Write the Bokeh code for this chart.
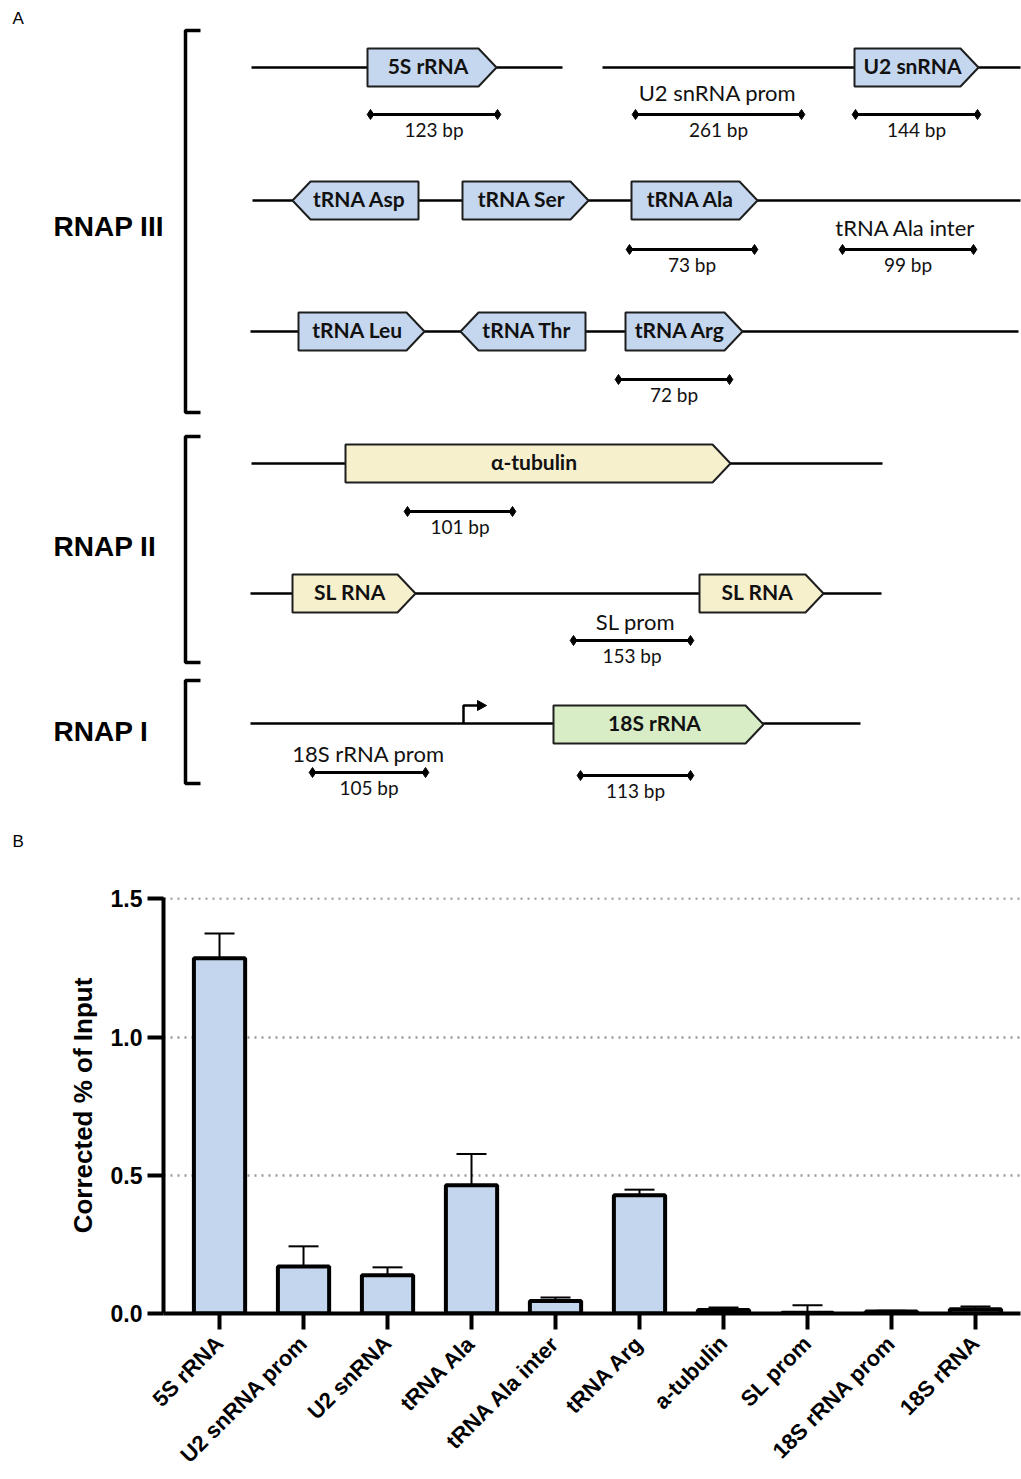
from math import pi
from bokeh.plotting import figure
from bokeh.models import (Range1d, FixedTicker, PrintfTickFormatter, ColumnDataSource,
                          Whisker, TeeHead)
from bokeh.embed import file_html
from bokeh.resources import INLINE
from bokeh.core.properties import value

# ---------------- Panel B data ----------------
categories = ["5S rRNA", "U2 snRNA prom", "U2 snRNA", "tRNA Ala", "tRNA Ala inter",
              "tRNA Arg", "a-tubulin", "SL prom", "18S rRNA prom", "18S rRNA"]
means = [1.285, 0.170, 0.138, 0.464, 0.045, 0.428, 0.013, 0.003, 0.007, 0.015]
errors = [0.090, 0.073, 0.029, 0.113, 0.013, 0.020, 0.009, 0.027, 0.003, 0.010]
y_ticks = [0.0, 0.5, 1.0, 1.5]

# ---------------- Panel A data (schematic) ----------------
gene_labels = ["5S rRNA", "U2 snRNA", "tRNA Asp", "tRNA Ser", "tRNA Ala", "tRNA Leu",
               "tRNA Thr", "tRNA Arg", "α-tubulin", "SL RNA", "SL RNA", "18S rRNA"]
gene_start = [367, 854, 292, 462, 631, 298, 460, 625, 345, 292, 699, 553]
gene_end = [496, 978, 418, 588, 757, 424, 585, 742, 730, 415, 823, 763]
gene_strand = [1, 1, -1, 1, 1, 1, -1, 1, 1, 1, 1, 1]
gene_row = [67, 67, 200, 200, 200, 331, 331, 331, 463, 593, 593, 724]
gene_kind = ["III", "III", "III", "III", "III", "III", "III", "III", "II", "II", "II", "I"]

backbone_x0 = [251, 602, 252, 250, 251, 250, 250]
backbone_x1 = [562, 1020, 1020, 1018, 882, 881, 860]
backbone_y = [67, 67, 200, 331, 463, 593, 723]

amp_labels = ["123 bp", "261 bp", "144 bp", "73 bp", "99 bp", "72 bp", "101 bp",
              "153 bp", "105 bp", "113 bp"]
amp_x0 = [370, 635, 855, 629, 842, 618, 407, 573, 312, 580]
amp_x1 = [497, 801, 977, 754, 973, 729, 512, 690, 425, 690]
amp_y = [114, 114, 114, 249, 249, 379, 511, 640, 772, 775]

region_names = ["U2 snRNA prom", "tRNA Ala inter", "SL prom", "18S rRNA prom"]
region_x = [717, 905, 635, 368]
region_y = [94, 229, 623, 755]

pol_names = ["RNAP III", "RNAP II", "RNAP I"]
pol_y = [227, 547, 732]
bracket_top = [30, 436, 680]
bracket_bottom = [412, 662, 783]

tss_x = [463]
tss_y = [723]

kind_colors = {"III": "#c5d7ee", "II": "#f7f0cd", "I": "#d8edc6"}

W = 1021
A_H = 850
B_H = 1479 - A_H

# ---------------- Panel A figure ----------------
pA = figure(width=W, height=A_H, x_range=Range1d(0, W), y_range=Range1d(A_H, 0),
            output_backend="svg", toolbar_location=None, min_border=0)
pA.axis.visible = False
pA.grid.visible = False
pA.outline_line_color = None

pA.segment(x0=backbone_x0, x1=backbone_x1, y0=backbone_y, y1=backbone_y,
           line_color="black", line_width=2.5)

tip = 18
half = 19
xs, ys, lx = [], [], []
for s, e, d, y in zip(gene_start, gene_end, gene_strand, gene_row):
    if d > 0:
        xs.append([s, e - tip, e, e - tip, s])
        ys.append([y - half, y - half, y, y + half, y + half])
    else:
        xs.append([s, s + tip, e, e, s + tip])
        ys.append([y, y - half, y - half, y + half, y + half])
    lx.append((s + e) / 2 - 4 * d)
pA.patches(xs=xs, ys=ys, fill_color=[kind_colors[k] for k in gene_kind],
           line_color="#1e1e1e", line_width=2)
pA.text(x=lx, y=[r - 2 for r in gene_row], text=gene_labels, text_font=value("Lato"),
        text_font_style="bold", text_font_size="21px", text_align="center",
        text_baseline="middle", text_color="#111111")

pA.segment(x0=amp_x0, x1=amp_x1, y0=amp_y, y1=amp_y, line_color="black", line_width=3)
pA.scatter(x=amp_x0 + amp_x1, y=amp_y + amp_y, marker="diamond", size=10,
           fill_color="black", line_color="black")
pA.text(x=[(a + b) / 2 for a, b in zip(amp_x0, amp_x1)], y=[v + 15 for v in amp_y],
        text=amp_labels, text_font=value("Lato"), text_font_size="19px",
        text_align="center", text_baseline="middle", text_color="#111111")

pA.text(x=region_x, y=[r - 2 for r in region_y], text=region_names, text_font=value("Lato"),
        text_font_size="22px", text_align="center", text_baseline="middle",
        text_color="#111111")

for tx, ty in zip(tss_x, tss_y):
    pA.line(x=[tx, tx, tx + 15], y=[ty, ty - 18, ty - 18], line_color="black", line_width=2.5)
    pA.patch(x=[tx + 14, tx + 23, tx + 14], y=[ty - 23, ty - 18, ty - 13],
             fill_color="black", line_color="black")

for t, b in zip(bracket_top, bracket_bottom):
    pA.line(x=[200, 185, 185, 200], y=[t, t, b, b], line_color="black", line_width=3.5)
pA.text(x=[53] * 3, y=[v - 1 for v in pol_y], text=pol_names, text_font=value("Liberation Sans"),
        text_font_style="bold", text_font_size="28px", text_align="left",
        text_baseline="middle", text_color="black")

pA.text(x=[12, 12], y=[18, 841], text=["A", "B"], text_font=value("Liberation Sans"),
        text_font_size="17px", text_align="left", text_baseline="middle", text_color="black")

# ---------------- Panel B figure ----------------
xs_b = list(range(len(categories)))
src = ColumnDataSource(dict(x=xs_b, top=means, upper=[m + e for m, e in zip(means, errors)]))

frame_top = 897
frame_h = 417
pB = figure(width=W, height=B_H, x_range=Range1d(-0.667, 9.536), y_range=Range1d(0, 1.505),
            output_backend="svg", toolbar_location=None,
            min_border_left=163, min_border_right=1,
            min_border_top=frame_top - A_H,
            min_border_bottom=B_H - (frame_top - A_H) - frame_h)
pB.outline_line_color = None

whisk = Whisker(source=src, base="x", upper="upper", lower="top", dimension="height",
                line_color="black", line_width=2,
                upper_head=TeeHead(size=30, line_color="black", line_width=2),
                lower_head=None)
pB.add_layout(whisk)

pB.vbar(x="x", top="top", bottom=0, width=0.61, source=src, fill_color="#c4d6ed",
        line_color="black", line_width=4)

pB.xgrid.visible = False
pB.ygrid.ticker = FixedTicker(ticks=[0.5, 1.0, 1.5])
pB.ygrid.grid_line_color = "#9a9a9a"
pB.ygrid.grid_line_dash = "2 5"
pB.ygrid.grid_line_width = 2.5

pB.yaxis.ticker = FixedTicker(ticks=y_ticks)
pB.yaxis.formatter = PrintfTickFormatter(format="%.1f")
pB.yaxis.axis_label = "Corrected % of Input"
pB.yaxis.axis_label_text_font = "Liberation Sans"
pB.yaxis.axis_label_text_font_style = "bold"
pB.yaxis.axis_label_text_font_size = "26px"
pB.yaxis.axis_label_text_color = "black"
pB.yaxis.axis_label_standoff = 10

pB.xaxis.ticker = FixedTicker(ticks=xs_b)
pB.xaxis.major_label_overrides = {i: c for i, c in zip(xs_b, categories)}
pB.xaxis.major_label_orientation = pi / 4

for ax in (pB.xaxis, pB.yaxis):
    ax.axis_line_width = 4
    ax.axis_line_color = "black"
    ax.major_tick_line_width = 4
    ax.major_tick_line_color = "black"
    ax.major_tick_out = 16
    ax.major_tick_in = 0
    ax.minor_tick_line_color = None
    ax.major_label_text_font = "Liberation Sans"
    ax.major_label_text_font_style = "bold"
    ax.major_label_text_color = "black"
pB.yaxis.major_label_text_font_size = "23px"
pB.yaxis.major_label_standoff = 5
pB.xaxis.major_label_text_font_size = "22px"
pB.xaxis.major_label_standoff = 10

open("out.html", "w").write(file_html([pA, pB], INLINE))
